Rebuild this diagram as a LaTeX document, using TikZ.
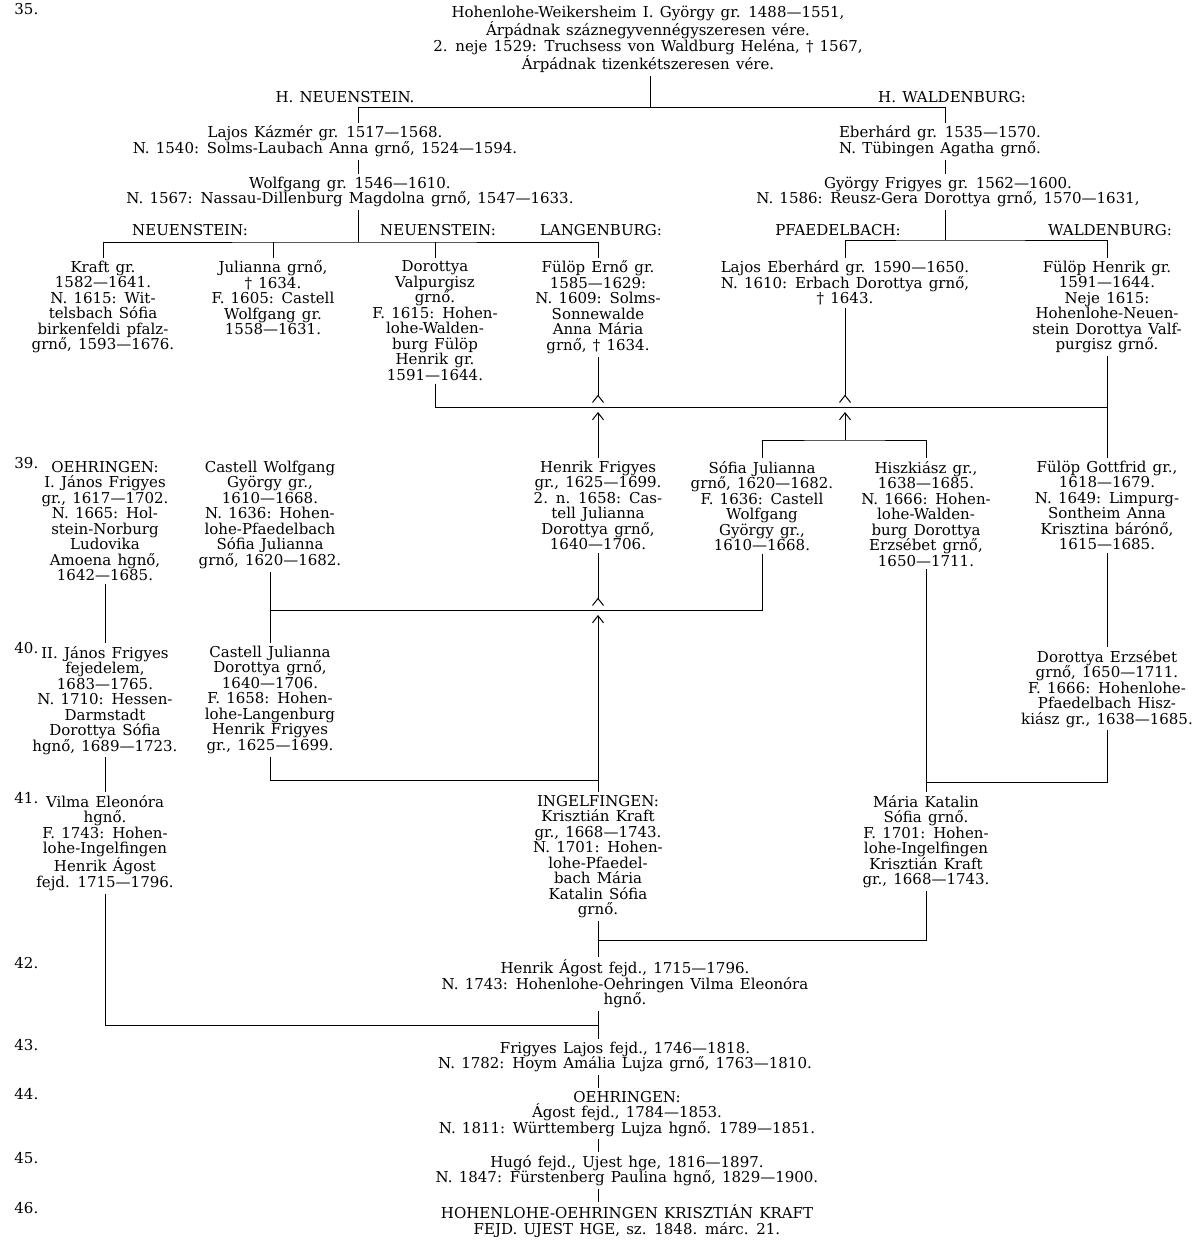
\documentclass[tikz,border=0pt]{standalone}
\usepackage{fontspec}
\setmainfont{DejaVu Serif}[WordSpace=1.3]
\usetikzlibrary{arrows.meta,calc}
\newcommand\fs{\fontsize{15}{15.5}\selectfont}
\tikzset{pers/.style={align=center,anchor=north,inner sep=0pt,outer sep=3pt,font=\fs},
  gen/.style={anchor=north west,inner sep=0pt,font=\fs},
  marr/.style={-{Straight Barb[reversed,length=7pt,width=11pt,line width=1pt]}},
  desc/.style={-{Straight Barb[length=7pt,width=11pt,line width=1pt]}}}

\begin{document}
\begin{tikzpicture}[x=1pt,y=-1pt,line width=0.9pt]
\fill[white] (0,0) rectangle (1195,1241);
\useasboundingbox (0,0) rectangle (1195,1241);
% generation numbers
\foreach \g/\y in {35/3,39/457,40/642,41/792,42/957,43/1039,44/1088,45/1152,46/1202}
  \node[gen] (g\g) at (14,\y) {\g.};
% nodes
\node[pers] (root) at (648,3) {Hohenlohe-Weikersheim I. György gr. 1488—1551,\\Árpádnak száznegyvennégyszeresen vére.\\2. neje 1529: Truchsess von Waldburg Heléna, † 1567,\\Árpádnak tizenkétszeresen vére.};
\node[pers] (hneu) at (345,88) {H. NEUENSTEIN.};
\node[pers] (hwal) at (952,88) {H. WALDENBURG:};
\node[pers] (lajos) at (325,123) {Lajos Kázmér gr. 1517—1568.\\N. 1540: Solms-Laubach Anna grnő, 1524—1594.};
\node[pers] (wolf) at (350,174) {Wolfgang gr. 1546—1610.\\N. 1567: Nassau-Dillenburg Magdolna grnő, 1547—1633.};
\node[pers] (eber) at (940,123) {Eberhárd gr. 1535—1570.\\N. Tübingen Agatha grnő.};
\node[pers] (gyfr) at (948,174) {György Frigyes gr. 1562—1600.\\N. 1586: Reusz-Gera Dorottya grnő, 1570—1631,};
\node[pers] (lneu) at (190,221) {NEUENSTEIN:};
\node[pers] (lneub) at (438,221) {NEUENSTEIN:};
\node[pers] (llang) at (601,221) {LANGENBURG:};
\node[pers] (lpfa) at (838,221) {PFAEDELBACH:};
\node[pers] (lwal) at (1110,221) {WALDENBURG:};
\node[pers] (kraft) at (103,258) {Kraft gr.\\1582—1641.\\N. 1615: Wit-\\telsbach Sófia\\birkenfeldi pfalz-\\grnő, 1593—1676.};
\node[pers] (jul) at (273,258) {Julianna grnő,\\† 1634.\\F. 1605: Castell\\Wolfgang gr.\\1558—1631.};
\node[pers] (doro) at (435,258) {Dorottya\\Valpurgisz\\grnő.\\F. 1615: Hohen-\\lohe-Walden-\\burg Fülöp\\Henrik gr.\\1591—1644.};
\node[pers] (ernst) at (598,258) {Fülöp Ernő gr.\\1585—1629:\\N. 1609: Solms-\\Sonnewalde\\Anna Mária\\grnő, † 1634.};
\node[pers] (ludeb) at (845,258) {Lajos Eberhárd gr. 1590—1650.\\N. 1610: Erbach Dorottya grnő,\\† 1643.};
\node[pers] (fhen) at (1107,258) {Fülöp Henrik gr.\\1591—1644.\\Neje 1615:\\Hohenlohe-Neuen-\\stein Dorottya Valf-\\purgisz grnő.};
\node[pers] (jan1) at (105,458) {OEHRINGEN:\\I. János Frigyes\\gr., 1617—1702.\\N. 1665: Hol-\\stein-Norburg\\Ludovika\\Amoena hgnő,\\1642—1685.};
\node[pers] (cwolf) at (270,458) {Castell Wolfgang\\György gr.,\\1610—1668.\\N. 1636: Hohen-\\lohe-Pfaedelbach\\Sófia Julianna\\grnő, 1620—1682.};
\node[pers] (henfr) at (598,458) {Henrik Frigyes\\gr., 1625—1699.\\2. n. 1658: Cas-\\tell Julianna\\Dorottya grnő,\\1640—1706.};
\node[pers] (sofia) at (762,458) {Sófia Julianna\\grnő, 1620—1682.\\F. 1636: Castell\\Wolfgang\\György gr.,\\1610—1668.};
\node[pers] (hisz) at (926,458) {Hiszkiász gr.,\\1638—1685.\\N. 1666: Hohen-\\lohe-Walden-\\burg Dorottya\\Erzsébet grnő,\\1650—1711.};
\node[pers] (fgott) at (1107,458) {Fülöp Gottfrid gr.,\\1618—1679.\\N. 1649: Limpurg-\\Sontheim Anna\\Krisztina bárónő,\\1615—1685.};
\node[pers] (jan2) at (105,643) {II. János Frigyes\\fejedelem,\\1683—1765.\\N. 1710: Hessen-\\Darmstadt\\Dorottya Sófia\\hgnő, 1689—1723.};
\node[pers] (cjul) at (270,643) {Castell Julianna\\Dorottya grnő,\\1640—1706.\\F. 1658: Hohen-\\lohe-Langenburg\\Henrik Frigyes\\gr., 1625—1699.};
\node[pers] (derz) at (1107,647) {Dorottya Erzsébet\\grnő, 1650—1711.\\F. 1666: Hohenlohe-\\Pfaedelbach Hisz-\\kiász gr., 1638—1685.};
\node[pers] (vilma) at (105,792) {Vilma Eleonóra\\hgnő.\\F. 1743: Hohen-\\lohe-Ingelfingen\\Henrik Ágost\\fejd. 1715—1796.};
\node[pers] (ingel) at (598,792) {INGELFINGEN:\\Krisztián Kraft\\gr., 1668—1743.\\N. 1701: Hohen-\\lohe-Pfaedel-\\bach Mária\\Katalin Sófia\\grnő.};
\node[pers] (mkat) at (926,792) {Mária Katalin\\Sófia grnő.\\F. 1701: Hohen-\\lohe-Ingelfingen\\Krisztián Kraft\\gr., 1668—1743.};
\node[pers] (henag) at (625,957) {Henrik Ágost fejd., 1715—1796.\\N. 1743: Hohenlohe-Oehringen Vilma Eleonóra\\hgnő.};
\node[pers] (frla) at (625,1039) {Frigyes Lajos fejd., 1746—1818.\\N. 1782: Hoym Amália Lujza grnő, 1763—1810.};
\node[pers] (aug) at (627,1088) {OEHRINGEN:\\Ágost fejd., 1784—1853.\\N. 1811: Württemberg Lujza hgnő. 1789—1851.};
\node[pers] (hugo) at (627,1152) {Hugó fejd., Ujest hge, 1816—1897.\\N. 1847: Fürstenberg Paulina hgnő, 1829—1900.};
\node[pers] (krk) at (627,1202) {HOHENLOHE-OEHRINGEN KRISZTIÁN KRAFT\\FEJD. UJEST HGE, sz. 1848. márc. 21.};
% junctions
\coordinate (b1) at (650,107);
\coordinate (b1l) at (358,107);
\coordinate (b1r) at (945,107);
\coordinate (b2) at (358,242);
\coordinate (b3) at (945,240);
\coordinate (m1) at (598,407);
\coordinate (b4) at (845,440);
\coordinate (m2) at (598,610);
\coordinate (b5) at (598,780);
\coordinate (b6) at (926,782);
\coordinate (b8) at (598,940);
\coordinate (b7) at (598,1025);
% lines
\draw (root.south -| b1) -- (b1);
\draw (lajos.north -| b1l) -- (b1l) -- (b1r) -- (eber.north -| b1r);
\draw (lajos.south -| b1l) -- (wolf.north -| b1l);
\draw (eber.south -| b1r) -- (gyfr.north -| b1r);
\draw (wolf.south -| b2) -- (b2);
\draw (kraft.north) |- (b2) -| (ernst.north);
\draw (jul.north) -- (jul.north |- b2);
\draw (doro.north) -- (doro.north |- b2);
\draw (gyfr.south -| b3) -- (b3);
\draw (ludeb.north) |- (b3) -| (fhen.north);
\draw (doro.south) |- (m1 -| fhen.south);
\draw (fhen.south) -- (fgott.north);
\draw[marr] (ernst.south) -- ($(m1)+(0,-4)$);
\draw[marr] (ludeb.south) -- ($(m1 -| ludeb.south)+(0,-4)$);
\draw (sofia.north) |- (b4) -| (hisz.north);
\draw[desc] (b4) -- ($(b4 |- m1)+(0,5)$);
\draw[desc] (henfr.north) -- ($(m1)+(0,5)$);
\draw (cwolf.south) -- (cjul.north);
\draw (sofia.south) |- (m2 -| cwolf.south);
\draw[marr] (henfr.south) -- ($(m2)+(0,-4)$);
\draw[desc] (ingel.north) -- ($(m2)+(0,5)$);
\draw (cjul.south) |- (b5);
\draw (hisz.south) -- (mkat.north);
\draw (fgott.south) -- (derz.north);
\draw (derz.south) |- (b6);
\draw (jan1.south) -- (jan2.north);
\draw (jan2.south) -- (vilma.north);
\draw (mkat.south) |- (b8);
\draw (ingel.south) -- (henag.north -| ingel.south);
\draw (vilma.south) |- (b7);
\draw (henag.south -| b7) -- (frla.north -| b7);
\draw (frla.south -| b7) -- (aug.north -| b7);
\draw (aug.south -| b7) -- (hugo.north -| b7);
\draw (hugo.south -| b7) -- (krk.north -| b7);
\end{tikzpicture}
\end{document}
